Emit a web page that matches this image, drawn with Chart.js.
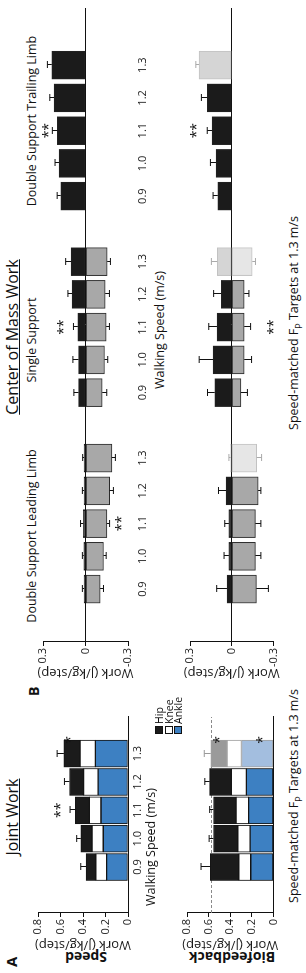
<!DOCTYPE html>
<html>
<head>
<meta charset="utf-8">
<script src="https://cdn.jsdelivr.net/npm/chart.js@4.4.0/dist/chart.umd.min.js"></script>
<style>
html, body { margin: 0; padding: 0; background: #fff; width: 306px; height: 973px; overflow: hidden; }
/* the figure is laid out landscape, then turned a quarter turn counter-clockwise */
#fig { position: absolute; left: 0; top: 0; width: 973px; height: 306px; transform-origin: 0 0;
       transform: translate(0, 973px) rotate(-90deg); font-family: 'Open Sans', sans-serif; color: #111; }
#fig canvas { position: absolute; }
.t { position: absolute; white-space: nowrap; line-height: 1; }
.c { transform: translateX(-50%); }
.v { transform: translate(-50%, -50%) rotate(-90deg); font-weight: bold; font-size: 14px; }
.big { font-size: 16px; text-decoration: underline; }
.sub { font-size: 12.5px; }
.ax { font-size: 12.5px; }
.leg { position: absolute; left: 239px; top: 155px; font-size: 10.5px; line-height: 9.5px; }
.leg span { display: inline-block; width: 6px; height: 6px; border: 1px solid #111; margin-right: 2px; vertical-align: 0px; }
</style>
</head>
<body>
<div id="fig">
  <div class="t" style="left:6px;top:4px;font-weight:bold;font-size:15px">A</div>
  <div class="t c big" style="left:156px;top:4px">Joint Work</div>
  <div class="t v" style="left:16px;top:86px">Speed</div>
  <div class="t v" style="left:16px;top:232px">Biofeedback</div>
  <canvas id="jwSpeed" width="250" height="118" style="left:10px;top:28px"></canvas>
  <canvas id="jwBio" width="250" height="105" style="left:10px;top:177px"></canvas>
  <div class="t c ax" style="left:126px;top:145px">Walking Speed (m/s)</div>
  <div class="t c ax" style="left:177px;top:288px">Speed-matched F<sub style="font-size:9px">P</sub> Targets at 1.3 m/s</div>
  <div class="leg" id="legend"></div>

  <div class="t" style="left:277px;top:27px;font-weight:bold;font-size:14px">B</div>
  <div class="t c big" style="left:636px;top:4px">Center of Mass Work</div>
  <div class="t c sub" style="left:437px;top:26px">Double Support Leading Limb</div>
  <div class="t c sub" style="left:633px;top:26px">Single Support</div>
  <div class="t c sub" style="left:852px;top:26px">Double Support Trailing Limb</div>
  <canvas id="comSpeed" width="690" height="118" style="left:280px;top:33px"></canvas>
  <canvas id="comBio" width="690" height="102" style="left:280px;top:180px"></canvas>
  <div class="t c ax" style="left:643px;top:154px">Walking Speed (m/s)</div>
  <div class="t c ax" style="left:650px;top:288px">Speed-matched F<sub style="font-size:9px">P</sub> Targets at 1.3 m/s</div>
</div>

<script>
// speeds (m/s)
const speeds = ['0.9', '1.0', '1.1', '1.2', '1.3'];

// A: joint work, stacked segments (J/kg/step)
const spdAnkle = [0.19, 0.22, 0.24, 0.265, 0.29];
const spdKnee  = [0.095, 0.10, 0.104, 0.129, 0.136];
const spdHip   = [0.088, 0.10, 0.124, 0.126, 0.144];
const spdErr   = [0.047, 0.036, 0.047, 0.045, 0.06];

const bioAnkle = [0.21, 0.215, 0.23, 0.25, 0.295];
const bioKnee  = [0.11, 0.115, 0.115, 0.14, 0.135];
const bioHip   = [0.265, 0.225, 0.21, 0.20, 0.15];
const bioErr   = [0.085, 0.04, 0.035, 0.045, 0.06];
const bioTarget = 0.58;

// B: center of mass work, positive / negative per phase
const groups = ['Double Support Leading Limb', 'Single Support', 'Double Support Trailing Limb'];

const spdLeadPos = [0.01, 0.012, 0.015, 0.01, 0.01];
const spdLeadPosErr = [0.012, 0.01, 0.02, 0.012, 0.01];
const spdLeadNeg = [-0.103, -0.127, -0.151, -0.17, -0.186];
const spdLeadNegErr = [0.024, 0.019, 0.019, 0.027, 0.025];
const spdSinglePos = [0.049, 0.049, 0.054, 0.094, 0.101];
const spdSinglePosErr = [0.033, 0.04, 0.031, 0.03, 0.039];
const spdSingleNeg = [-0.118, -0.134, -0.146, -0.139, -0.153];
const spdSingleNegErr = [0.032, 0.023, 0.023, 0.03, 0.023];
const spdTrailPos = [0.175, 0.187, 0.198, 0.222, 0.238];
const spdTrailPosErr = [0.025, 0.028, 0.036, 0.03, 0.031];
const spdTrailNeg = [0, 0, 0, 0, 0];
const spdTrailNegErr = [0, 0, 0, 0, 0];

const bioLeadPos = [0.034, 0.02, 0.02, 0.04, 0.008];
const bioLeadPosErr = [0.074, 0.035, 0.03, 0.055, 0.012];
const bioLeadNeg = [-0.177, -0.17, -0.17, -0.19, -0.18];
const bioLeadNegErr = [0.087, 0.04, 0.04, 0.02, 0.035];
const bioSinglePos = [0.122, 0.134, 0.106, 0.075, 0.104];
const bioSinglePosErr = [0.052, 0.10, 0.059, 0.055, 0.042];
const bioSingleNeg = [-0.066, -0.09, -0.09, -0.09, -0.148];
const bioSingleNegErr = [0.047, 0.053, 0.046, 0.034, 0.023];
const bioTrailPos = [0.10, 0.113, 0.141, 0.176, 0.235];
const bioTrailPosErr = [0.034, 0.04, 0.035, 0.042, 0.023];
const bioTrailNeg = [0, 0, 0, 0, 0];
const bioTrailNegErr = [0, 0, 0, 0, 0];

// significance marks: [position, value, text]
const spdJointStars = [[2, 0.62, '**'], [4.48, 0.53, '*']];
const bioJointStars = [[4.48, 0.52, '*'], [4.48, 0.12, '*']];
const spdComStars = [[2, -0.24, '**'], [8, 0.17, '**'], [14, 0.28, '**']];
const bioComStars = [[8, -0.28, '**'], [14, 0.27, '**']];

const FADED = 4; // 1.3 m/s biofeedback column is greyed out

Chart.defaults.font.family = "'Open Sans', sans-serif";
Chart.defaults.font.size = 11;
Chart.defaults.color = '#1a1a1a';

const errorBars = {
  id: 'errorBars',
  afterDatasetsDraw(chart) {
    const ctx = chart.ctx, y = chart.scales.y;
    chart.data.datasets.forEach((ds, di) => {
      if (!ds.errors) return;
      chart.getDatasetMeta(di).data.forEach((bar, j) => {
        const e = ds.errors[j];
        if (!e) return;
        const v = y.getValueForPixel(bar.y);
        const ye = y.getPixelForValue(v + ds.errDir * e);
        const x = Math.round(bar.x) + 0.5;
        ctx.save();
        ctx.strokeStyle = ds.errColor[j];
        ctx.lineWidth = 1;
        ctx.beginPath();
        ctx.moveTo(x, bar.y); ctx.lineTo(x, ye);
        ctx.moveTo(x - 3.5, ye); ctx.lineTo(x + 3.5, ye);
        ctx.stroke();
        ctx.restore();
      });
    });
  }
};

const starMarks = {
  id: 'starMarks',
  afterDraw(chart, args, opts) {
    const ctx = chart.ctx;
    ctx.save();
    ctx.fillStyle = '#111';
    ctx.font = "14px 'Open Sans', sans-serif";
    ctx.textAlign = 'center';
    ctx.textBaseline = 'middle';
    (opts.marks || []).forEach(([p, v, t]) => {
      ctx.fillText(t, chart.scales.x.getPixelForValue(p), chart.scales.y.getPixelForValue(v) + 3);
    });
    ctx.restore();
  }
};

const refLine = {
  id: 'refLine',
  beforeDatasetsDraw(chart, args, opts) {
    if (opts.value == null) return;
    const ctx = chart.ctx, a = chart.chartArea;
    const yy = Math.round(chart.scales.y.getPixelForValue(opts.value)) + 0.5;
    ctx.save();
    ctx.strokeStyle = '#8a8a8a';
    ctx.setLineDash([3, 2]);
    ctx.beginPath(); ctx.moveTo(a.left, yy); ctx.lineTo(a.right, yy); ctx.stroke();
    ctx.restore();
  }
};

const cols = {
  hip: '#1b1b1b', knee: '#ffffff', ankle: '#3d80c2',
  hipF: '#9a9a9a', kneeF: '#ffffff', ankleF: '#a3bedf',
  edge: '#151515', edgeF: '#a0a0a0',
  grey: '#a8a8a8', blackF: '#d5d5d5', greyF: '#e6e6e6', comEdgeF: '#c2c2c2'
};

function pick(faded, c, cf) {
  return speeds.map((_, i) => (i === faded ? cf : c));
}

function jointChart(id, ankle, knee, hip, err, faded, stars, target, showTicks, xh) {
  const seg = (label, vals, c, cf, extra) => Object.assign({
    label, data: vals.map((v, i) => ({ x: i, y: v })),
    backgroundColor: pick(faded, c, cf), borderColor: pick(faded, cols.edge, cols.edgeF),
    borderWidth: 1, borderSkipped: false, barThickness: 27
  }, extra || {});
  return new Chart(document.getElementById(id), {
    type: 'bar',
    data: {
      datasets: [
        seg('Ankle', ankle, cols.ankle, cols.ankleF),
        seg('Knee', knee, cols.knee, cols.kneeF),
        seg('Hip', hip, cols.hip, cols.hipF,
            { errors: err, errDir: 1, errColor: pick(faded, '#111', '#999') })
      ]
    },
    options: {
      responsive: false, animation: false,
      layout: { padding: { top: 10, right: 4, left: 0, bottom: 0 } },
      plugins: { legend: { display: false }, tooltip: { enabled: false },
                 starMarks: { marks: stars }, refLine: { value: target } },
      scales: {
        x: {
          type: 'linear', stacked: true, min: -0.93, max: 4.6,
          grid: { display: false, drawTicks: false }, border: { color: '#111', width: 1 },
          afterBuildTicks: s => { s.ticks = speeds.map((_, i) => ({ value: i })); },
          ticks: { display: showTicks, padding: 3, callback: v => speeds[v] },
          afterFit: s => { s.height = xh; }
        },
        y: {
          stacked: true, min: 0, max: 0.8,
          ticks: { stepSize: 0.2, padding: 2, callback: v => (v === 0 ? '0' : String(+v.toFixed(1))) },
          grid: { drawOnChartArea: false, tickLength: 4, tickColor: '#111' },
          border: { color: '#111', width: 1 },
          title: { display: true, text: 'Work (J/kg/step)', font: { size: 13 }, padding: { top: 10 } },
          afterFit: s => { s.width = 50; }
        }
      }
    },
    plugins: [refLine, errorBars, starMarks]
  });
}

function comChart(id, rows, faded, stars, showTicks, xh) {
  const pts = (key) => rows.flatMap((r, g) => r[key].map((v, i) => ({ x: g * 6 + i, y: v })));
  const flat = (key) => rows.flatMap(r => r[key]);
  const colr = (c, cf) => rows.flatMap(() => pick(faded, c, cf));
  return new Chart(document.getElementById(id), {
    type: 'bar',
    data: {
      datasets: [
        { label: 'Positive', data: pts('pos'), backgroundColor: colr(cols.hip, cols.blackF),
          borderColor: colr('#222', cols.comEdgeF), borderWidth: 1, borderSkipped: false, barThickness: 28,
          errors: flat('posErr'), errDir: 1, errColor: colr('#111', '#aaa') },
        { label: 'Negative', data: pts('neg'), backgroundColor: colr(cols.grey, cols.greyF),
          borderColor: colr('#2a2a2a', cols.comEdgeF), borderWidth: 1, borderSkipped: false, barThickness: 28,
          errors: flat('negErr'), errDir: -1, errColor: colr('#111', '#aaa') }
      ]
    },
    options: {
      responsive: false, animation: false,
      layout: { padding: { top: 10, right: 5, left: 0, bottom: 0 } },
      plugins: { legend: { display: false }, tooltip: { enabled: false }, starMarks: { marks: stars } },
      scales: {
        x: {
          type: 'linear', stacked: true, min: -0.97, max: 17.1,
          grid: { display: false, drawTicks: false }, border: { display: false },
          afterBuildTicks: s => { s.ticks = rows.flatMap((r, g) => speeds.map((_, i) => ({ value: g * 6 + i }))); },
          ticks: { display: showTicks, padding: 8, callback: v => speeds[v % 6] },
          afterFit: s => { s.height = xh; }
        },
        y: {
          stacked: true, min: -0.3, max: 0.3,
          afterBuildTicks: s => { s.ticks = [{ value: -0.3 }, { value: 0 }, { value: 0.3 }]; },
          ticks: { padding: 2, callback: v => (Math.abs(v) < 1e-9 ? '0' : String(+v.toFixed(1))) },
          grid: { drawOnChartArea: true, tickLength: 4, tickColor: '#111',
                  color: c => (c.tick && Math.abs(c.tick.value) < 1e-9 ? '#111' : 'rgba(0,0,0,0)') },
          border: { color: '#111', width: 1 },
          title: { display: true, text: 'Work (J/kg/step)', font: { size: 13 }, padding: { top: 12 } },
          afterFit: s => { s.width = 51; }
        }
      }
    },
    plugins: [errorBars, starMarks]
  });
}

jointChart('jwSpeed', spdAnkle, spdKnee, spdHip, spdErr, -1, spdJointStars, null, true, 18);
jointChart('jwBio', bioAnkle, bioKnee, bioHip, bioErr, FADED, bioJointStars, bioTarget, false, 4);

comChart('comSpeed', [
  { pos: spdLeadPos, posErr: spdLeadPosErr, neg: spdLeadNeg, negErr: spdLeadNegErr },
  { pos: spdSinglePos, posErr: spdSinglePosErr, neg: spdSingleNeg, negErr: spdSingleNegErr },
  { pos: spdTrailPos, posErr: spdTrailPosErr, neg: spdTrailNeg, negErr: spdTrailNegErr }
], -1, spdComStars, true, 23);
comChart('comBio', [
  { pos: bioLeadPos, posErr: bioLeadPosErr, neg: bioLeadNeg, negErr: bioLeadNegErr },
  { pos: bioSinglePos, posErr: bioSinglePosErr, neg: bioSingleNeg, negErr: bioSingleNegErr },
  { pos: bioTrailPos, posErr: bioTrailPosErr, neg: bioTrailNeg, negErr: bioTrailNegErr }
], FADED, bioComStars, false, 4);

// legend for the joint stacks
document.getElementById('legend').innerHTML = [['Hip', cols.hip], ['Knee', cols.knee], ['Ankle', cols.ankle]]
  .map(([n, c]) => '<div><span style="background:' + c + '"></span>' + n + '</div>').join('');
</script>
</body>
</html>
